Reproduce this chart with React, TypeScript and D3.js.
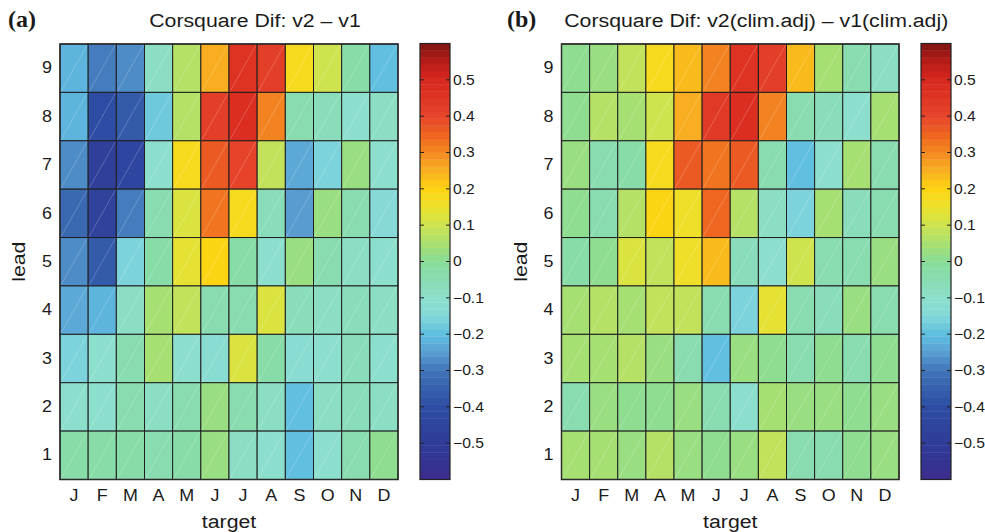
import React from "react";
import * as d3 from "d3";

// target months (columns) and forecast leads (rows, listed top to bottom)
const months = ["J", "F", "M", "A", "M", "J", "J", "A", "S", "O", "N", "D"];
const leads = [9, 8, 7, 6, 5, 4, 3, 2, 1];

// Corsquare difference v2 - v1, one row per lead (9 at top)
const difA: number[][] = [
  [-0.22, -0.3, -0.28, -0.08, 0.06, 0.25, 0.45, 0.43, 0.18, 0.1, -0.03, -0.2],
  [-0.22, -0.4, -0.37, -0.17, 0.06, 0.42, 0.48, 0.3, -0.04, -0.06, -0.1, -0.08],
  [-0.28, -0.47, -0.44, -0.1, 0.18, 0.36, 0.4, 0.08, -0.23, -0.16, 0.03, -0.1],
  [-0.33, -0.45, -0.3, -0.04, 0.12, 0.33, 0.18, -0.07, -0.26, 0.03, -0.05, -0.15],
  [-0.28, -0.37, -0.16, -0.03, 0.14, 0.2, -0.03, -0.1, 0.03, -0.04, -0.09, -0.1],
  [-0.24, -0.22, -0.09, 0.05, 0.08, -0.05, -0.05, 0.12, -0.06, -0.09, -0.07, -0.09],
  [-0.16, -0.1, -0.05, 0.05, -0.1, -0.13, 0.12, -0.03, -0.12, -0.1, -0.06, -0.1],
  [-0.1, -0.1, -0.04, -0.09, -0.05, 0.03, -0.05, -0.09, -0.19, -0.09, -0.07, -0.09],
  [-0.03, -0.03, -0.03, -0.05, -0.03, 0.03, -0.09, -0.11, -0.2, -0.1, -0.05, 0.01],
];

// Corsquare difference v2(clim.adj) - v1(clim.adj)
const difB: number[][] = [
  [0.0, 0.02, 0.08, 0.18, 0.24, 0.3, 0.45, 0.42, 0.24, 0.05, -0.05, -0.09],
  [0.0, 0.06, 0.04, 0.1, 0.26, 0.44, 0.47, 0.3, -0.05, -0.06, -0.1, 0.04],
  [0.02, -0.05, -0.03, 0.18, 0.37, 0.32, 0.37, -0.04, -0.19, -0.1, 0.04, -0.05],
  [0.0, -0.05, 0.06, 0.2, 0.15, 0.34, 0.06, -0.08, -0.16, 0.05, -0.07, -0.04],
  [-0.03, 0.01, 0.12, 0.08, 0.16, 0.24, -0.06, -0.11, 0.1, -0.05, -0.05, 0.03],
  [0.04, 0.06, 0.05, 0.08, 0.09, -0.04, -0.16, 0.14, -0.05, -0.06, 0.03, -0.04],
  [0.04, 0.05, 0.06, 0.03, -0.04, -0.19, 0.03, 0.01, -0.04, 0.0, -0.04, 0.01],
  [-0.05, 0.03, 0.01, 0.0, 0.02, -0.05, -0.1, 0.04, 0.03, 0.03, 0.0, 0.03],
  [0.04, 0.04, 0.02, 0.06, 0.02, 0.0, 0.02, 0.08, -0.04, -0.05, 0.01, 0.03],
];

const colorTicks = [-0.5, -0.4, -0.3, -0.2, -0.1, 0, 0.1, 0.2, 0.3, 0.4, 0.5];
const cMin = -0.6;
const cMax = 0.6;
const nLevels = 64;

// colormap anchor values and colours
const cmapStops = [-0.6, -0.5, -0.4, -0.3, -0.25, -0.2, -0.15, -0.1, -0.05, 0, 0.05, 0.1, 0.15, 0.2, 0.25, 0.3, 0.35, 0.4, 0.5, 0.55, 0.6];
const cmapColors = [
  "#3b2c8c", "#2f3b98", "#2e4da3", "#3f74b8", "#5a9fd2", "#5fbde0", "#84d8da", "#8cdfcc",
  "#88dcb2", "#88dc98", "#a8e070", "#cde350", "#ece22e", "#fcd412", "#f8b020", "#f48a20",
  "#ee6420", "#e6442a", "#d8281f", "#b81c18", "#7c1410",
];

const cmap = d3.scaleLinear<string>().domain(cmapStops).range(cmapColors).interpolate(d3.interpolateRgb).clamp(true);
const step = (cMax - cMin) / nLevels;
const quant = (v: number) => {
  const i = Math.max(0, Math.min(nLevels - 1, Math.floor((v - cMin) / step)));
  return cmap(cMin + (i + 0.5) * step);
};

const FONT = "'Liberation Sans', Arial, Helvetica, sans-serif";
const TXT = "#1a1a1a";
const SX = 1.12; // horizontal widening of the sans-serif labels

type LabelProps = {
  x: number;
  y: number;
  size: number;
  anchor?: "start" | "middle" | "end";
  central?: boolean;
  children: React.ReactNode;
};

function Label({ x, y, size, anchor = "start", central = false, children }: LabelProps) {
  return (
    <text
      transform={`translate(${x},${y}) scale(${SX},1)`}
      textAnchor={anchor}
      dominantBaseline={central ? "central" : undefined}
      fontFamily={FONT}
      fontSize={size}
      fill={TXT}
    >
      {children}
    </text>
  );
}

type PanelProps = {
  left: number;
  right: number;
  cbLeft: number;
  label: string;
  title: string;
  labelX: number;
  data: number[][];
};

const TOP = 44;
const BOTTOM = 479.5;

function Panel({ left, right, cbLeft, label, title, labelX, data }: PanelProps) {
  const x = d3.scaleBand<string>().domain(months.map((_, i) => String(i))).range([left, right]);
  const y = d3.scaleBand<string>().domain(leads.map(String)).range([TOP, BOTTOM]);
  const cbW = 30;
  const cy = d3.scaleLinear().domain([cMin, cMax]).range([BOTTOM, TOP - 0.5]);
  const levels = d3.range(nLevels);
  const titleX = (left + cbLeft + cbW) / 2;

  return (
    <g>
      <text x={labelX} y={27} fontFamily="'Liberation Serif', 'Times New Roman', serif" fontWeight="bold" fontSize={24} fill={TXT}>
        {label}
      </text>
      <Label x={titleX} y={27} size={19} anchor="middle">
        {title}
      </Label>

      {data.map((row, ri) =>
        row.map((v, ci) => {
          const x0 = x(String(ci))!;
          const y0 = y(String(leads[ri]))!;
          const w = x.bandwidth();
          const h = y.bandwidth();
          return (
            <g key={`${ri}-${ci}`}>
              <rect x={x0} y={y0} width={w} height={h} fill={quant(v)} stroke="#1f1f1f" strokeWidth={1} />
              <line x1={x0 + 1} y1={y0 + h - 1} x2={x0 + w - 1} y2={y0 + 1} stroke="#ffffff" strokeOpacity={0.35} strokeWidth={0.6} />
            </g>
          );
        })
      )}
      <rect x={left} y={TOP} width={right - left} height={BOTTOM - TOP} fill="none" stroke="#2a2a2a" strokeWidth={1.5} />

      {leads.map((l) => (
        <Label key={l} x={left - 8} y={y(String(l))! + y.bandwidth() / 2} size={16} anchor="end" central>
          {l}
        </Label>
      ))}
      {months.map((m, i) => (
        <Label key={i} x={x(String(i))! + x.bandwidth() / 2} y={496} size={16} anchor="middle" central>
          {m}
        </Label>
      ))}
      <Label x={(left + right) / 2} y={528} size={19} anchor="middle">
        target
      </Label>
      <text transform={`translate(${left - 35},${(TOP + BOTTOM) / 2}) rotate(-90) scale(${SX},1)`} textAnchor="middle" fontFamily={FONT} fontSize={19} fill={TXT}>
        lead
      </text>

      {levels.map((i) => {
        const v0 = cMin + i * step;
        const v1 = v0 + step;
        return (
          <rect key={i} x={cbLeft} y={cy(v1)} width={cbW} height={cy(v0) - cy(v1) + 0.4} fill={cmap(v0 + step / 2)} />
        );
      })}
      <rect x={cbLeft} y={TOP - 0.5} width={cbW} height={BOTTOM - TOP + 0.5} fill="none" stroke="#222" strokeWidth={1.2} />
      {colorTicks.map((t) => (
        <g key={t}>
          <line x1={cbLeft} x2={cbLeft + 4} y1={cy(t)} y2={cy(t)} stroke="#222" strokeWidth={1} />
          <line x1={cbLeft + cbW - 4} x2={cbLeft + cbW} y1={cy(t)} y2={cy(t)} stroke="#222" strokeWidth={1} />
          <Label x={cbLeft + cbW + 3} y={cy(t)} size={14} central>
            {t === 0 ? "0" : (t < 0 ? "\u2212" : "") + Math.abs(t).toFixed(1)}
          </Label>
        </g>
      ))}
    </g>
  );
}

const titleA = "Corsquare Dif: v2 \u2013 v1";
const titleB = "Corsquare Dif: v2(clim.adj) \u2013 v1(clim.adj)";

export default function App() {
  return (
    <svg width={985} height={532} style={{ position: "absolute", left: 0, top: 0, background: "#fff" }}>
      <rect width={985} height={532} fill="#fff" />
      <Panel left={60} right={398} cbLeft={420} label="(a)" labelX={8} title={titleA} data={difA} />
      <Panel left={561.5} right={899} cbLeft={921} label="(b)" labelX={507} title={titleB} data={difB} />
    </svg>
  );
}
